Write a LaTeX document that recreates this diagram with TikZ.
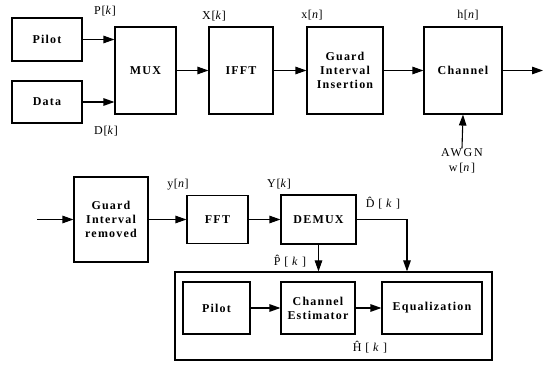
\documentclass[tikz,border=0pt]{standalone}
\usepackage{fontspec}
\setmainfont{Liberation Serif}
\usetikzlibrary{arrows.meta}
\begin{document}
\begin{tikzpicture}[x=1pt,y=-1pt,
  blk/.style={draw, line width=1.1pt, align=center, inner sep=0pt,
    font=\fontsize{12}{14}\selectfont\bfseries\addfontfeature{LetterSpace=10}},
  lbl/.style={font=\fontsize{12}{14}\selectfont\addfontfeature{LetterSpace=6}, inner sep=0pt},
  con/.style={line width=1.1pt, -{Triangle[length=11pt,width=7.5pt]}},
  frame/.style={draw, line width=1.1pt, inner sep=0pt}]
\useasboundingbox (0,0) rectangle (547,366);
% transmitter chain
\node[blk, minimum width=70pt, minimum height=43pt] (pilot) at (47,39.5) {Pilot};
\node[blk, minimum width=70pt, minimum height=42pt] (data) at (47,102) {Data};
\node[blk, minimum width=61pt, minimum height=87pt] (mux) at (145.5,70.5) {MUX};
\node[blk, minimum width=64pt, minimum height=87pt] (ifft) at (241,70.5) {IFFT};
\node[blk, minimum width=76pt, minimum height=87pt] (gii) at (345,70.5) {Guard\\Interval\\Insertion};
\node[blk, minimum width=78pt, minimum height=87pt] (chan) at (463,70.5) {Channel};
\coordinate (out) at (543,70.5);
\node[lbl, align=center, font=\fontsize{12}{15.5}\selectfont\addfontfeature{LetterSpace=15}] (awgn) at (462,161) {AWGN\\w[\textit{n}]};
\draw[con] (pilot.east) -- (pilot.east -| mux.west);
\draw[con] (data.east) -- (data.east -| mux.west);
\draw[con] (mux) -- (ifft);
\draw[con] (ifft) -- (gii);
\draw[con] (gii) -- (chan);
\draw[con] (chan) -- (out);
\draw[con] (awgn.north) -- (chan.south);
\node[lbl] (lp) at (105,11) {P[\textit{k}]};
\node[lbl] (ld) at (106,131) {D[\textit{k}]};
\node[lbl] (lX) at (214,16) {X[\textit{k}]};
\node[lbl] (lx) at (312,15) {x[\textit{n}]};
\node[lbl] (lh) at (468,15) {h[\textit{n}]};
% receiver chain
\coordinate (in) at (37,219.5);
\node[blk, minimum width=74pt, minimum height=85pt] (gir) at (111,219.5) {Guard\\Interval\\removed};
\node[blk, minimum width=61pt, minimum height=48pt] (fft) at (217.5,219.5) {FFT};
\node[blk, minimum width=75pt, minimum height=49pt] (demux) at (318.5,219.5) {DEMUX};
\node[frame, minimum width=317pt, minimum height=88pt] (est box) at (333.5,316) {};
\node[blk, minimum width=67pt, minimum height=52pt] (pilot2) at (216.5,308) {Pilot};
\node[blk, minimum width=74pt, minimum height=52pt] (est) at (318,308) {Channel\\Estimator};
\node[blk, minimum width=100pt, minimum height=52pt] (eq) at (432,308) {Equalization};
\coordinate (dk) at (407,219.5);
\draw[con] (in) -- (gir);
\draw[con] (gir) -- (fft);
\draw[con] (fft) -- (demux);
\draw[con] (demux.south) -- (demux.south |- est box.north);
\draw[con] (demux.east) -- (dk) -- (dk |- est box.north);
\draw[con] (pilot2) -- (est);
\draw[con] (est) -- (eq);
\node[lbl] (ly) at (178,185) {y[\textit{n}]};
\node[lbl] (lY) at (279,184) {Y[\textit{k}]};
\node[lbl] (lD) at (383,203) {\^{D} [ \textit{k} ]};
\node[lbl] (lP) at (290,261) {\^{P} [ \textit{k} ]};
\node[lbl] (lH) at (370,347) {\^{H} [ \textit{k} ]};
\end{tikzpicture}
\end{document}
